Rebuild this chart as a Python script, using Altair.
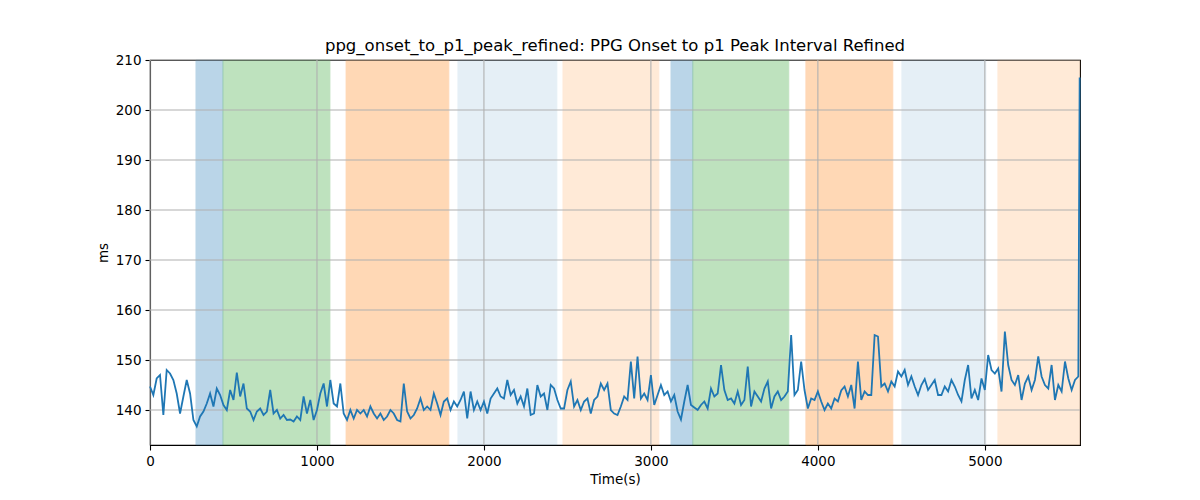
import altair as alt
import pandas as pd

# ---- data ----
series_a = [144.7,143,146.3,147,139,148,147.3,146,143.3,139.3,
142.7,146,143.3,138,136.7,138.7,139.7,141.3,143.3,140.7,
144.3,143,141,140,144,142,147.5,142.7,145.3,140.3,
139.7,138,139.7,140.3,139,139.7,144,139.3,140,138.3,
139,138,138.1,137.7,138.7,138,142.7,139.3,142,138,
140,143.3,145.3,140.7,146,141.3,140.7,145.3,139.3,138,
140,138.3,140,139.3,140,138.7,140.7,139.3,138.3]
series_b = [139.3,138,138.7,140,139.3,138,137.7,145.3,139.7,138.3,
139,140.3,142.3,140,140.7,140,143.3,141.3,139,141.7,
142.3,140,141.7,140.7,142,143.7,138.3,143.7,140,141.7,
140,141.7,139.3,142.3,143.3,144.3,142.7,142.3,146,143,
144,141.3,142.7,140.7,144.3,139,139.3,145,142.7,143.3,
140,145,144.3,142,140.3,140.3,144,145.7,140.7,142,
140,141.7,142.3,139.3,142,142.7,145.3,144,145.3]
series_c = [140,139.3,139,140.7,142.7,142,149.7,142.3,150.7,142.3,
143.3,142,147,141,143,145,143,143.7,141.7,143,
139.7,138.1,141.7,145,141,140.5,140,141,141.7,140.3,
144.3,142.7,143.3,149,144,142,142.3,141.3,143.7,141,
142,148.7,140.7,143.7,142.7,141.7,144.3,145.7,140.3,142.7,
143.7,142,142.7,143.7,155,143,144,149.7,144,140.3,
142.3,142,143.7,141.7,140,141.3,140.3,142.3]
series_d = [141.7,143.9,144.7,142.7,145,140.3,149.7,142,143.7,143,
143,155,154.7,144.7,145.3,143.7,145.7,144.7,147.7,146.7,
148,145,146.7,144.7,143,145,146.2,144,145,146,
143,143,144.7,143.7,146,144.7,143,141.7,146,149,
142.3,144,142,146.3,144,151,148,147.3,148.3,143.7,
155.7,149,146,145,147,142,145.3,146.7,144,146,
150.7,146.7,145,144.3,149,142,145,143.7,149.7,146.3,
144,146,146.7]
step_s = 20
final_time = 5568
final_value = 206.5

band_start = [275, 437, 1174, 1844, 2473, 3120, 3251, 3928, 4503, 5078]
band_end   = [437, 1078, 1790, 2437, 3048, 3251, 3826, 4449, 5006, 5570]
band_color = ["#1f77b4", "#2ca02c", "#ff7f0e", "#1f77b4", "#ff7f0e",
              "#1f77b4", "#2ca02c", "#ff7f0e", "#1f77b4", "#ff7f0e"]
band_alpha = [0.3, 0.3, 0.3, 0.11, 0.16, 0.3, 0.3, 0.3, 0.11, 0.16]

x_ticks = [0, 1000, 2000, 3000, 4000, 5000]
y_ticks = [140, 150, 160, 170, 180, 190, 200, 210]
x_domain = [0, 5570]
y_domain = [133, 210]

values = series_a + series_b + series_c + series_d
times = [i * step_s for i in range(len(values))]
line_df = pd.DataFrame({"t": times + [final_time], "v": values + [final_value]})
band_df = pd.DataFrame({"s": band_start, "e": band_end, "c": band_color, "a": band_alpha})

xs = alt.Scale(domain=x_domain, nice=False, zero=False)
ys = alt.Scale(domain=y_domain, nice=False, zero=False)

font = "DejaVu Sans"

bands = alt.Chart(band_df).mark_rect(strokeWidth=0.8).encode(
    x=alt.X("s:Q", scale=xs, title="Time(s)",
            axis=alt.Axis(values=x_ticks, grid=False, format="d", labelFlush=False)),
    x2="e:Q",
    y=alt.value(0),
    y2=alt.value(385),
    color=alt.Color("c:N", scale=None),
    stroke=alt.Color("c:N", scale=None),
    opacity=alt.Opacity("a:Q", scale=None),
)

xgrid = alt.Chart(pd.DataFrame({"x": x_ticks})).mark_rule(color="#b0b0b0", strokeWidth=1.1).encode(
    x=alt.X("x:Q", scale=xs), y=alt.value(0), y2=alt.value(385))
ygrid = alt.Chart(pd.DataFrame({"y": y_ticks})).mark_rule(color="#b0b0b0", strokeWidth=1.1).encode(
    y=alt.Y("y:Q", scale=ys), x=alt.value(0), x2=alt.value(930))

line = alt.Chart(line_df).mark_line(color="#1f77b4", strokeWidth=1.8).encode(
    x=alt.X("t:Q", scale=xs),
    y=alt.Y("v:Q", scale=ys, title="ms",
            axis=alt.Axis(values=y_ticks, grid=False, labelFlush=False)),
)

chart = alt.layer(bands, xgrid, ygrid, line).properties(
    width=930, height=385,
    background="white",
    title=alt.Title("ppg_onset_to_p1_peak_refined: PPG Onset to p1 Peak Interval Refined",
                    font=font, fontSize=16.5, fontWeight="normal", color="black",
                    anchor="middle", offset=-1),
    autosize=alt.AutoSizeParams(type="none"),
    padding={"left": 150, "top": 60, "right": 120, "bottom": 55},
).configure_view(stroke="black", strokeWidth=1.1).configure_axis(
    labelFont=font, titleFont=font, labelFontSize=13.5, titleFontSize=13.5,
    titleFontWeight="normal", labelColor="black", titleColor="black",
    domainColor="black", domainWidth=1.1, tickColor="black", tickWidth=1.1,
    tickSize=5, labelPadding=4, titlePadding=5,
)

chart.save("out.html", embed_options={"renderer": "svg", "actions": False})
